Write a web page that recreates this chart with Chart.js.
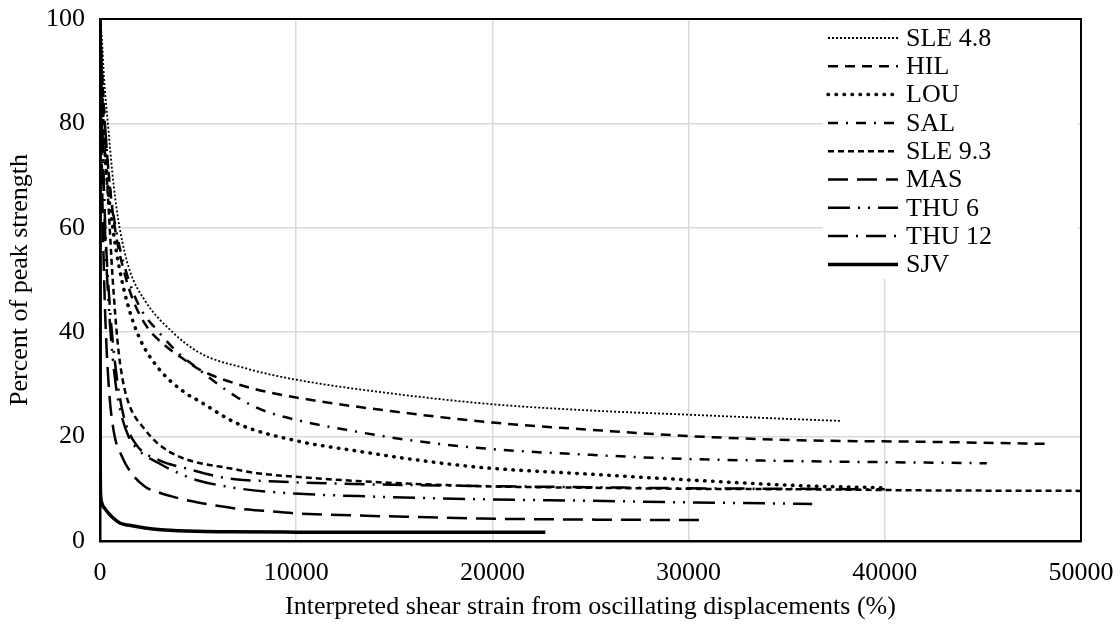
<!DOCTYPE html>
<html>
<head>
<meta charset="utf-8">
<script src="https://cdn.jsdelivr.net/npm/chart.js@4.4.1/dist/chart.umd.min.js"></script>
<style>
  html, body { margin: 0; padding: 0; background: #fff; }
  #wrap { width: 1120px; height: 624px; }
</style>
</head>
<body>
<div id="wrap"><canvas id="chart" width="1120" height="624"></canvas></div>
<script>
// curve data: strain (%) and percent of peak strength
const seriesNames = ['SLE 4.8', 'HIL', 'LOU', 'SAL', 'SLE 9.3', 'MAS', 'THU 6', 'THU 12', 'SJV'];

const sle48Strain = [0, 100, 200, 400, 700, 1000, 1500, 2300, 3700, 5100, 7500, 10000, 15000, 20000, 25000, 30000, 35000, 37800];
const sle48Strength = [100, 96, 89, 80, 68, 60, 52, 46, 40, 36, 33, 30.9, 28.2, 26.2, 25, 24.2, 23.4, 23];

const hilStrain = [0, 100, 250, 500, 800, 1200, 1700, 2400, 3300, 4200, 5100, 7500, 10000, 15000, 20000, 25000, 30000, 35700, 42000, 48500];
const hilStrength = [100, 90, 80, 68, 59, 52, 46, 41, 37.5, 35, 32.8, 29.5, 27.5, 24.8, 22.7, 21.3, 20.1, 19.3, 19, 18.6];

const louStrain = [0, 80, 200, 400, 650, 1000, 1400, 2000, 3000, 4300, 5100, 7000, 10000, 13000, 16000, 19400, 25000, 30000, 35700, 40000];
const louStrength = [100, 88, 78, 68, 60, 52, 45.5, 39, 33, 28.5, 26.7, 22.5, 19.2, 17.3, 15.6, 14.1, 12.8, 11.7, 10.6, 10.2];

const salStrain = [0, 100, 250, 500, 800, 1300, 2000, 3000, 4000, 5000, 5600, 7000, 8200, 10000, 13000, 16000, 20000, 25000, 30000, 35700, 45200];
const salStrength = [100, 90, 80, 68, 60, 52, 45, 40, 36, 33, 31.2, 27.5, 25.2, 23.2, 21, 19.2, 17.6, 16.5, 15.7, 15.3, 14.9];

const sle93Strain = [0, 80, 200, 420, 650, 900, 1150, 1500, 2300, 3000, 4000, 5000, 6500, 8000, 10000, 14000, 19400, 25000, 30000, 36000, 42000, 50000];
const sle93Strength = [100, 90, 78, 65, 50, 38, 31, 26, 21.3, 18.5, 16.2, 15, 14, 13, 12.3, 11.3, 10.5, 10.2, 10, 9.9, 9.7, 9.6];

const masStrain = [0, 60, 150, 250, 440, 700, 1120, 1600, 2300, 3000, 3700, 4700, 5700, 7000, 8300, 10000, 13000, 16000, 19400, 25000, 30700];
const masStrength = [100, 80, 60, 45, 30, 21, 16.2, 13, 10.4, 9.3, 8.5, 7.6, 6.9, 6.2, 5.8, 5.3, 4.9, 4.6, 4.3, 4.1, 4];

const thu6Strain = [0, 100, 250, 500, 800, 1100, 1460, 2000, 3000, 4000, 4900, 7000, 9500, 14000, 19400, 25000, 30000, 36300];
const thu6Strength = [100, 80, 60, 42, 30, 24, 20, 17.3, 14.9, 13, 11.7, 10.1, 9.2, 8.5, 8, 7.7, 7.4, 7.1];

const thu12Strain = [0, 100, 250, 500, 800, 1200, 1800, 3000, 4300, 6500, 9000, 12000, 16000, 20000, 25000, 30000, 35000, 40000];
const thu12Strength = [100, 82, 62, 45, 33, 24, 18.7, 15.5, 14, 12, 11.4, 11, 10.7, 10.5, 10.3, 10.1, 10, 9.9];

const sjvStrain = [0, 5, 12, 30, 100, 250, 440, 700, 1035, 1500, 2300, 4000, 6500, 10000, 22700];
const sjvStrength = [100, 50, 15, 9, 7.2, 6.2, 5.3, 4.3, 3.4, 3, 2.5, 1.95, 1.75, 1.7, 1.7];

const xTicks = [0, 10000, 20000, 30000, 40000, 50000];
const yTicks = [0, 20, 40, 60, 80, 100];

const allStrain = [sle48Strain, hilStrain, louStrain, salStrain, sle93Strain, masStrain, thu6Strain, thu12Strain, sjvStrain];
const allStrength = [sle48Strength, hilStrength, louStrength, salStrength, sle93Strength, masStrength, thu6Strength, thu12Strength, sjvStrength];

// line styles, same order as seriesNames
const lineStyles = [
  { width: 1.8, dash: [2, 2], cap: 'butt' },
  { width: 2.5, dash: [10, 7], cap: 'butt' },
  { width: 3.5, dash: [0.5, 7.5], cap: 'round' },
  { width: 2.5, dash: [10, 8, 2, 8], cap: 'butt' },
  { width: 2.5, dash: [6, 4], cap: 'butt' },
  { width: 2.5, dash: [20, 9], cap: 'butt' },
  { width: 2.5, dash: [22, 8, 2, 8, 2, 8], cap: 'butt' },
  { width: 2.5, dash: [20, 8, 2, 8], cap: 'butt' },
  { width: 3.5, dash: [], cap: 'butt' }
];

const FONT = 'Liberation Serif';
const FONT_SIZE = 26;

function toPoints(xs, ys) {
  return xs.map((x, i) => ({ x: x, y: ys[i] }));
}

const datasets = seriesNames.map((name, i) => ({
  label: name,
  data: toPoints(allStrain[i], allStrength[i]),
  borderColor: '#000',
  borderWidth: lineStyles[i].width,
  borderDash: lineStyles[i].dash,
  borderCapStyle: lineStyles[i].cap,
  cubicInterpolationMode: 'monotone',
  pointRadius: 0,
  fill: false
}));

// frame around the plot area
const plotFrame = {
  id: 'plotFrame',
  afterDatasetsDraw(chart) {
    const { ctx, chartArea: a } = chart;
    ctx.save();
    ctx.strokeStyle = '#000';
    ctx.lineWidth = 2;
    ctx.strokeRect(a.left, a.top, a.right - a.left, a.bottom - a.top);
    ctx.restore();
  }
};

// legend box inside the upper right corner
const innerLegend = {
  id: 'innerLegend',
  afterDraw(chart) {
    const { ctx, chartArea: a } = chart;
    const left = a.right - 258;
    const top = a.top + 2;
    ctx.save();
    ctx.fillStyle = '#fff';
    ctx.fillRect(left, top, 255, 258);
    ctx.font = FONT_SIZE + 'px "' + FONT + '"';
    ctx.textBaseline = 'middle';
    chart.data.datasets.forEach((ds, i) => {
      const y = top + 17 + i * 28.3;
      ctx.beginPath();
      ctx.strokeStyle = '#000';
      ctx.lineWidth = ds.borderWidth;
      ctx.lineCap = ds.borderCapStyle;
      ctx.setLineDash(ds.borderDash);
      ctx.moveTo(left + 5, y);
      ctx.lineTo(left + 75, y);
      ctx.stroke();
      ctx.setLineDash([]);
      ctx.fillStyle = '#000';
      ctx.fillText(ds.label, left + 83, y + 1);
    });
    ctx.restore();
  }
};

new Chart(document.getElementById('chart'), {
  type: 'line',
  data: { datasets: datasets },
  options: {
    responsive: false,
    animation: false,
    events: [],
    layout: { padding: { top: 19, right: 39, bottom: 0, left: 0 } },
    plugins: { legend: { display: false }, tooltip: { enabled: false } },
    scales: {
      x: {
        type: 'linear',
        min: 0,
        max: 50000,
        afterFit(scale) {
          scale.height = 83;
          scale.paddingRight = 0;
          scale.paddingLeft = 0;
        },
        afterBuildTicks(scale) { scale.ticks = xTicks.map(v => ({ value: v })); },
        ticks: {
          color: '#000',
          padding: 17,
          maxRotation: 0,
          font: { family: FONT, size: FONT_SIZE },
          callback: v => String(v)
        },
        grid: { color: '#d9d9d9', lineWidth: 1.5, drawTicks: false },
        border: { color: '#000', width: 2.5 },
        title: {
          display: true,
          text: 'Interpreted shear strain from oscillating displacements (%)',
          color: '#000',
          font: { family: FONT, size: FONT_SIZE },
          padding: { top: 0, bottom: 1 }
        }
      },
      y: {
        min: 0,
        max: 100,
        afterFit(scale) {
          scale.width = 100;
          scale.paddingTop = 0;
          scale.paddingBottom = 0;
        },
        afterBuildTicks(scale) { scale.ticks = yTicks.map(v => ({ value: v })); },
        ticks: {
          color: '#000',
          padding: 15,
          font: { family: FONT, size: FONT_SIZE }
        },
        grid: { color: '#d9d9d9', lineWidth: 1.5, drawTicks: false },
        border: { color: '#000', width: 2.5 },
        title: {
          display: true,
          text: 'Percent of peak strength',
          color: '#000',
          font: { family: FONT, size: FONT_SIZE },
          padding: { top: 5, bottom: 0 }
        }
      }
    }
  },
  plugins: [plotFrame, innerLegend]
});
</script>
</body>
</html>
